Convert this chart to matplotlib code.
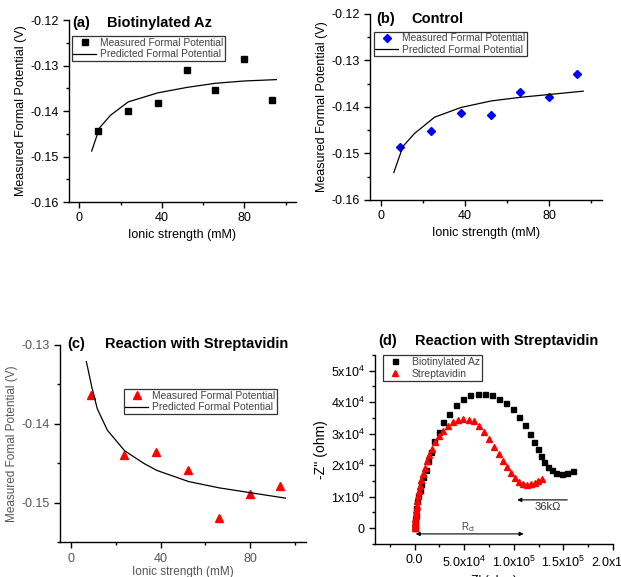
import matplotlib
matplotlib.use('Agg')
import matplotlib.pyplot as plt
from matplotlib.ticker import MultipleLocator, FixedLocator, FixedFormatter

plt.rcParams.update({
    'font.family': ['Liberation Sans', 'DejaVu Sans'],
    'mathtext.fontset': 'custom',
    'mathtext.rm': 'Liberation Sans',
    'mathtext.default': 'regular',
    'axes.linewidth': 1.0,
    'axes.unicode_minus': False,
})

# ionic strength (mM)
ionic = [9, 23.7, 38, 52.3, 66, 80, 93.3]

# (a) biotinylated Az
meas_a = [-0.1444, -0.1401, -0.1383, -0.1310, -0.1353, -0.1286, -0.1376]
pred_a_x = [6.0, 9.8, 15.2, 23.7, 38.1, 52.3, 66.1, 79.8, 95.5]
pred_a_y = [-0.1488, -0.1437, -0.1409, -0.1380, -0.1360, -0.1348, -0.1339, -0.1334, -0.1331]

# (b) control
meas_b = [-0.1485, -0.1452, -0.1413, -0.1418, -0.1368, -0.1378, -0.1329]
pred_b_x = [6.3, 10.6, 16.1, 25.6, 38.2, 52.5, 66.7, 80.3, 96.1]
pred_b_y = [-0.1541, -0.1485, -0.1457, -0.1422, -0.1401, -0.1387, -0.1379, -0.1373, -0.1366]

# (c) reaction with streptavidin
meas_c = [-0.1363, -0.1440, -0.1436, -0.1459, -0.1519, -0.1489, -0.1479]
pred_c_x = [6.8, 9.2, 11.7, 16.2, 23.9, 32.5, 38.4, 52.5, 66.2, 79.8, 95.8]
pred_c_y = [-0.1321, -0.1353, -0.1381, -0.1408, -0.1434, -0.1450, -0.1459, -0.1473, -0.1481, -0.1487, -0.1494]

# (d) impedance, Z' and -Z'' (ohm)
bio_zr = [0, 200, 500, 700, 1010, 1680, 2690, 3700, 5040, 6720, 8400, 11100, 13780,
          16810, 19500, 24540, 28910, 34960, 42020, 48750, 55810, 63550, 70610, 77670,
          84730, 91790, 99190, 105240, 110960, 116000, 120370, 124070, 127430, 130790,
          134490, 138190, 142900, 148280, 153650, 159710]
bio_zi = [0, 800, 2000, 3000, 4250, 6380, 8500, 10320, 12230, 14040, 16170, 18610, 21270,
          24140, 27700, 30630, 33720, 36380, 39040, 40950, 42230, 42760, 42550, 42230,
          41160, 39890, 37760, 35310, 32660, 30000, 27440, 25000, 22870, 20950,
          19460, 18400, 17550, 17230, 17550, 18190]
strep_zr = [0, 150, 300, 450, 650, 900, 1200, 1600, 2100, 2700, 3400, 4300, 5400, 6700,
            8200, 10000, 12200, 14600, 17400, 20800, 24500, 28700, 33200, 38300, 43600,
            49000, 54500, 60000, 65200, 70200, 75200, 80000, 84600, 89000, 93200, 97400,
            101500, 105500, 109500, 113500, 117300, 121000, 124600, 128400]
strep_zi = [0, 700, 1400, 2100, 2900, 3800, 4800, 5900, 7200, 8600, 10100, 11700, 13400, 15200,
            17100, 19100, 21300, 23300, 25300, 27300, 29200, 31000, 32500, 33700, 34400,
            34600, 34500, 33900, 32500, 30500, 28200, 25800, 23500, 21300, 19300, 17500,
            15900, 14800, 14100, 13800, 13900, 14300, 14900, 15700]

fig = plt.figure(figsize=(6.21, 5.77), dpi=100)


def style_axes(ax, color='black', size=9):
    for s in ['top', 'right']:
        ax.spines[s].set_visible(False)
    ax.tick_params(which='major', direction='out', length=4, width=1, labelsize=size,
                   colors='black', labelcolor=color)
    ax.tick_params(which='minor', direction='out', length=2.5, width=1)


def potential_panel(rect, meas, px, py, marker, mcolor, ms, letter, title,
                    ylim, leg_xy, ylabel, txtcolor='black', lblsize=9, title_y=0.98,
                    xpad=3):
    ax = fig.add_axes(rect)
    ax.plot(ionic, meas, linestyle='none', marker=marker, color=mcolor, ms=ms,
            label='Measured Formal Potential')
    ax.plot(px, py, color='black', lw=0.9, label='Predicted Formal Potential')
    ax.set_xlim(-5, 105)
    ax.set_ylim(*ylim)
    ax.xaxis.set_major_locator(MultipleLocator(40))
    ax.xaxis.set_minor_locator(MultipleLocator(20))
    ax.yaxis.set_major_locator(MultipleLocator(0.01))
    ax.yaxis.set_minor_locator(MultipleLocator(0.005))
    style_axes(ax, txtcolor)
    ax.set_xlabel('Ionic strength (mM)', fontsize=lblsize, color=txtcolor, labelpad=xpad)
    ax.set_ylabel(ylabel, fontsize=lblsize, color=txtcolor, labelpad=2)
    leg = ax.legend(loc='upper left', bbox_to_anchor=leg_xy, borderaxespad=0,
                    fontsize=7.4, frameon=True, fancybox=False, edgecolor='black',
                    handlelength=2.2, handletextpad=0.4, borderpad=0.15,
                    labelspacing=0.15, labelcolor='#444444')
    leg.get_frame().set_linewidth(0.9)
    ax.text(letter[1], title_y, letter[0], transform=ax.transAxes, fontsize=10.5,
            fontweight='bold', va='center', ha='left')
    ax.text(letter[2], title_y, title, transform=ax.transAxes, fontsize=10.5,
            fontweight='bold', va='center', ha='left')
    return ax


ax_a = potential_panel([0.1111, 0.6499, 0.3655, 0.3154], meas_a, pred_a_x, pred_a_y,
                       's', 'black', 4, ('(a)', 0.016, 0.169), 'Biotinylated Az',
                       (-0.16, -0.12), (0.012, 0.912), 'Measured Formal Potential (V)',
                       title_y=0.982)
ax_b = potential_panel([0.5958, 0.6534, 0.3736, 0.3224], meas_b, pred_b_x, pred_b_y,
                       'D', '#0000ff', 4.2, ('(b)', 0.025, 0.177), 'Control',
                       (-0.16, -0.12), (0.017, 0.905), 'Measured Formal Potential (V)',
                       title_y=0.973)
ax_c = potential_panel([0.0966, 0.0601, 0.3961, 0.3420], meas_c, pred_c_x, pred_c_y,
                       '^', '#ff0000', 5.5, ('(c)', 0.031, 0.183), 'Reaction with Streptavidin',
                       (-0.155, -0.13), (0.26, 0.775), 'Measured Fomal Potential (V)',
                       txtcolor='#555555', lblsize=8.5, title_y=1.003, xpad=1)

# (d) Nyquist plot
ax_d = fig.add_axes([0.6039, 0.0572, 0.3830, 0.3276])
ax_d.plot(bio_zr, bio_zi, linestyle='none', marker='s', color='black', ms=3.6,
          label='Biotinylated Az')
ax_d.plot(strep_zr, strep_zi, linestyle='none', marker='^', color='#ff0000', ms=4.2,
          label='Streptavidin')
ax_d.set_xlim(-40000, 200000)
ax_d.set_ylim(-5000, 55000)
xt = [0, 50000, 100000, 150000, 200000]
xtl = ['0.0', r'5.0x10$^4$', r'1.0x10$^5$', r'1.5x10$^5$', r'2.0x10$^5$']
yt = [0, 10000, 20000, 30000, 40000, 50000]
ytl = ['0', r'1x10$^4$', r'2x10$^4$', r'3x10$^4$', r'4x10$^4$', r'5x10$^4$']
ax_d.xaxis.set_major_locator(FixedLocator(xt))
ax_d.xaxis.set_major_formatter(FixedFormatter(xtl))
ax_d.xaxis.set_minor_locator(MultipleLocator(25000))
ax_d.yaxis.set_major_locator(FixedLocator(yt))
ax_d.yaxis.set_major_formatter(FixedFormatter(ytl))
ax_d.yaxis.set_minor_locator(MultipleLocator(5000))
style_axes(ax_d)
ax_d.set_xlabel("Z' (ohm)", fontsize=9, labelpad=4)
ax_d.set_ylabel("-Z'' (ohm)", fontsize=10, labelpad=2)
leg = ax_d.legend(loc='upper left', bbox_to_anchor=(0.032, 1.0), borderaxespad=0,
                  fontsize=7.5, frameon=True, fancybox=False, edgecolor='black',
                  handlelength=2.0, handletextpad=0.6, borderpad=0.2,
                  labelspacing=0.15, labelcolor='#444444')
leg.get_frame().set_linewidth(0.9)
ax_d.text(0.014, 1.074, '(d)', transform=ax_d.transAxes, fontsize=10.5,
          fontweight='bold', va='center', ha='left')
ax_d.text(0.168, 1.074, 'Reaction with Streptavidin', transform=ax_d.transAxes,
          fontsize=10.5, fontweight='bold', va='center', ha='left')

# annotations: 36 kOhm shift and Rct
ax_d.annotate('', xy=(103500, 9000), xytext=(154000, 9000),
              arrowprops=dict(arrowstyle='-|>', color='black', lw=0.8, mutation_scale=6,
                              shrinkA=0, shrinkB=0))
ax_d.text(134000, 6900, '36k\u03a9', fontsize=8, color='#333333', ha='center', va='center')
ax_d.annotate('', xy=(1000, -1800), xytext=(110000, -1800),
              arrowprops=dict(arrowstyle='<|-|>', color='black', lw=0.8, mutation_scale=6,
                              shrinkA=0, shrinkB=0))
ax_d.text(54000, 400, 'R$_{ct}$', fontsize=7, color='#444444', ha='center', va='center')

fig.savefig('out.png', dpi=100)
